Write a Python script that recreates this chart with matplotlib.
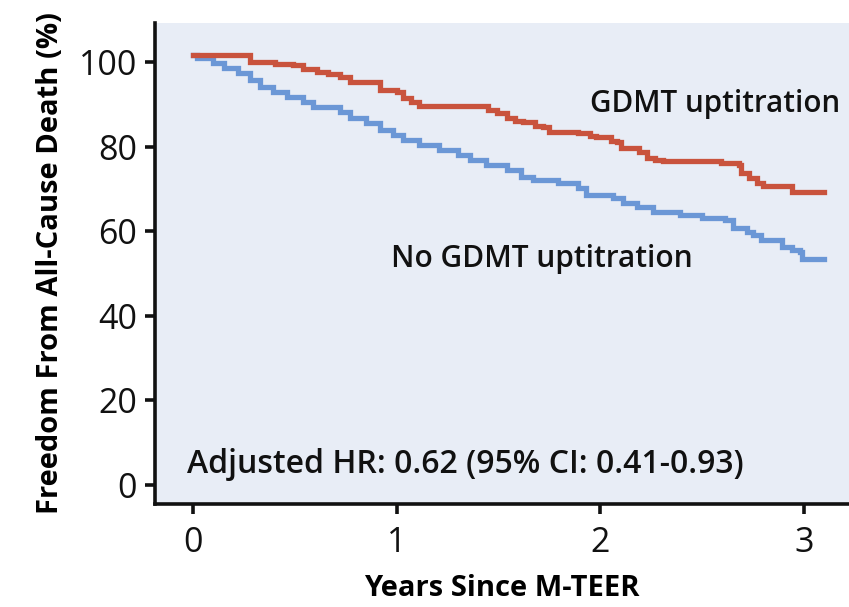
import matplotlib
matplotlib.use("Agg")
import matplotlib.pyplot as plt

plt.rcParams['font.family'] = ['Open Sans', 'DejaVu Sans']

# Kaplan-Meier steps: time (years) where the curve drops, and the level after it
gdmt_t = [0.00, 0.28, 0.40, 0.49, 0.54, 0.61, 0.66, 0.72, 0.77, 0.92, 1.00, 1.03, 1.07,
          1.11, 1.45, 1.49, 1.54, 1.58, 1.62, 1.68, 1.72, 1.75, 1.89, 1.95, 1.98, 2.05,
          2.08, 2.10, 2.19, 2.23, 2.27, 2.31, 2.59, 2.68, 2.69, 2.73, 2.77, 2.80, 2.94, 3.10]
gdmt_s = [101.7, 100.0, 99.6, 99.3, 98.3, 97.6, 97.2, 96.5, 95.4, 93.4, 92.9, 91.5, 90.5,
          89.6, 88.7, 87.9, 86.8, 86.2, 85.8, 85.0, 84.6, 83.5, 83.2, 82.6, 82.3, 81.4,
          81.1, 79.7, 78.7, 77.3, 76.8, 76.6, 76.2, 75.7, 73.8, 72.6, 71.4, 70.7, 69.3, 69.3]

nogdmt_t = [0.00, 0.02, 0.10, 0.15, 0.22, 0.28, 0.33, 0.39, 0.46, 0.54, 0.59, 0.72, 0.77,
            0.85, 0.92, 0.98, 1.03, 1.11, 1.21, 1.30, 1.36, 1.44, 1.54, 1.61, 1.67, 1.79,
            1.89, 1.93, 2.06, 2.11, 2.18, 2.26, 2.39, 2.50, 2.61, 2.65, 2.72, 2.75, 2.79,
            2.89, 2.94, 2.98, 2.99, 3.10]
nogdmt_s = [101.7, 101.0, 99.8, 98.6, 97.4, 95.7, 94.1, 92.9, 91.7, 90.5, 89.4, 88.2, 86.8,
            85.6, 83.9, 82.7, 81.6, 80.4, 79.2, 78.0, 76.8, 75.7, 74.5, 72.8, 72.1, 71.4,
            70.2, 68.6, 67.8, 66.7, 65.7, 64.5, 63.8, 63.1, 62.6, 60.8, 59.8, 59.1, 57.9,
            56.3, 55.6, 55.1, 53.4, 53.4]

xticks = [0, 1, 2, 3]
yticks = [0, 20, 40, 60, 80, 100]

red = '#c9533d'
blue = '#6b97d6'
ink = '#111111'

fig = plt.figure(figsize=(8.49, 6.07), dpi=100)
ax = fig.add_axes([0.1826, 0.1697, 0.8174, 0.7925])
ax.set_facecolor('#e8edf6')

ax.step(nogdmt_t, nogdmt_s, where='post', color=blue, lw=3.8, solid_joinstyle='miter')
ax.step(gdmt_t, gdmt_s, where='post', color=red, lw=3.8, solid_joinstyle='miter')

ax.set_xlim(-0.187, 3.221)
ax.set_ylim(-4.5, 109.3)
ax.set_xticks(xticks)
ax.set_yticks(yticks)

for side in ['top', 'right']:
    ax.spines[side].set_visible(False)
for side in ['left', 'bottom']:
    ax.spines[side].set_linewidth(2.6)
    ax.spines[side].set_color(ink)
ax.tick_params(axis='both', length=7, width=2.6, color=ink, labelsize=24.5,
               labelcolor=ink)
ax.tick_params(axis='y', pad=6)
ax.tick_params(axis='x', pad=9)

ax.set_xlabel('Years Since M-TEER', fontsize=21, fontweight='bold', labelpad=10)
ax.set_ylabel('Freedom From All-Cause Death (%)', fontsize=21, fontweight='bold',
              labelpad=10)

note = dict(color=ink, va='baseline', fontweight='semibold')
ax.text(1.95, 88.3, 'GDMT uptitration', fontsize=21.3, **note)
ax.text(0.97, 51.5, 'No GDMT uptitration', fontsize=21.5, **note)
ax.text(-0.03, 2.8, 'Adjusted HR: 0.62 (95% CI: 0.41-0.93)', fontsize=23, **note)

fig.savefig('out.png', dpi=100)
